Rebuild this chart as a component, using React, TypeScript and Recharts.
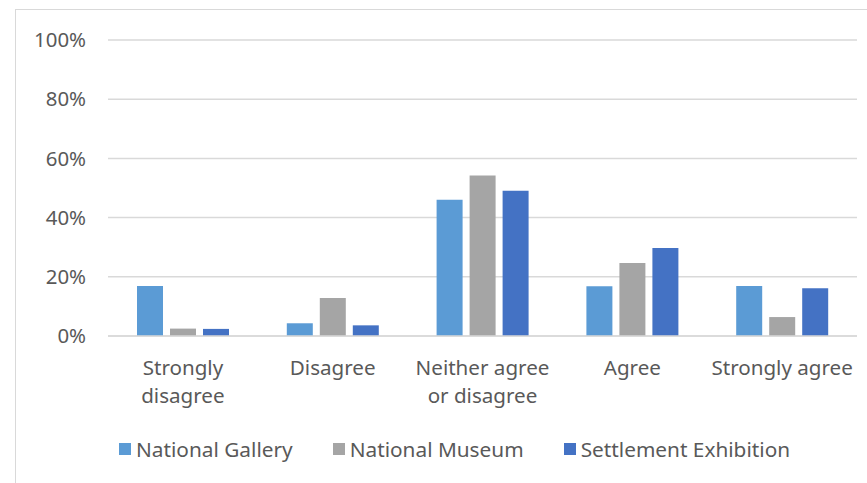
import React from "react";
import { BarChart, Bar, XAxis, YAxis, CartesianGrid, Legend } from "recharts";

const categories = ["Strongly\ndisagree", "Disagree", "Neither agree\nor disagree", "Agree", "Strongly agree"];
const nationalGallery = [16.9, 4.3, 46, 16.8, 16.9];
const nationalMuseum = [2.5, 12.8, 54.2, 24.7, 6.4];
const settlementExhibition = [2.4, 3.6, 49.1, 29.7, 16.1];
const yTicks = [0, 20, 40, 60, 80, 100];

const data = categories.map((c, i) => ({
  category: c,
  gallery: nationalGallery[i],
  museum: nationalMuseum[i],
  settlement: settlementExhibition[i],
}));

const FONT = "'Noto Sans', sans-serif";
const TEXT = "#595959";

function CategoryTick(props: any) {
  const { x, y, payload } = props;
  const lines = String(payload.value).split("\n");
  return (
    <text x={x} y={y} textAnchor="middle" fill={TEXT} fontFamily={FONT} fontSize={20.6}>
      {lines.map((l, i) => (
        <tspan key={i} x={x} dy={i === 0 ? 39 : 28}>
          {l}
        </tspan>
      ))}
    </text>
  );
}

function LegendContent(props: any) {
  const items = props.payload || [];
  return (
    <div style={{ display: "flex", alignItems: "center", height: 26, fontFamily: FONT, fontSize: 20.8, color: TEXT, whiteSpace: "nowrap" }}>
      {items.map((it: any, i: number) => (
        <div key={i} style={{ display: "flex", alignItems: "center", marginRight: 40 }}>
          <span style={{ width: 12, height: 12, background: it.color, marginRight: 5, display: "inline-block" }} />
          <span>{it.value}</span>
        </div>
      ))}
    </div>
  );
}

export default function App() {
  return (
    <div style={{ position: "absolute", left: 0, top: 0, width: 867, height: 483, background: "#fff", overflow: "hidden" }}>
      <div style={{ position: "absolute", left: 15, top: 9, width: 900, height: 520, border: "1.5px solid #d9d9d9" }} />
      <div style={{ position: "absolute", left: 0, top: 0 }}>
        <BarChart
          width={867}
          height={483}
          data={data}
          margin={{ top: 40, right: 10, left: 0, bottom: 0 }}
          barCategoryGap={29}
          barGap={7}
        >
          <CartesianGrid vertical={false} stroke="#d9d9d9" strokeWidth={1.5} />
          <XAxis
            dataKey="category"
            height={147}
            axisLine={{ stroke: "#d9d9d9", strokeWidth: 1.5 }}
            tickLine={false}
            tickSize={0}
            tickMargin={0}
            interval={0}
            tick={<CategoryTick />}
          />
          <YAxis
            width={108}
            domain={[0, 100]}
            ticks={yTicks}
            tickFormatter={(v: number) => `${v}%`}
            axisLine={false}
            tickLine={false}
            tickSize={0}
            tickMargin={22}
            tick={{ fill: TEXT, fontFamily: FONT, fontSize: 20.4 }}
          />
          <Legend
            layout="vertical"
            align="center"
            verticalAlign="middle"
            content={<LegendContent />}
            wrapperStyle={{ top: 436, left: 119, width: 740, height: 26 }}
          />
          <Bar dataKey="gallery" name="National Gallery" fill="#5B9BD5" isAnimationActive={false} />
          <Bar dataKey="museum" name="National Museum" fill="#A5A5A5" isAnimationActive={false} />
          <Bar dataKey="settlement" name="Settlement Exhibition" fill="#4472C4" isAnimationActive={false} />
        </BarChart>
      </div>
    </div>
  );
}
